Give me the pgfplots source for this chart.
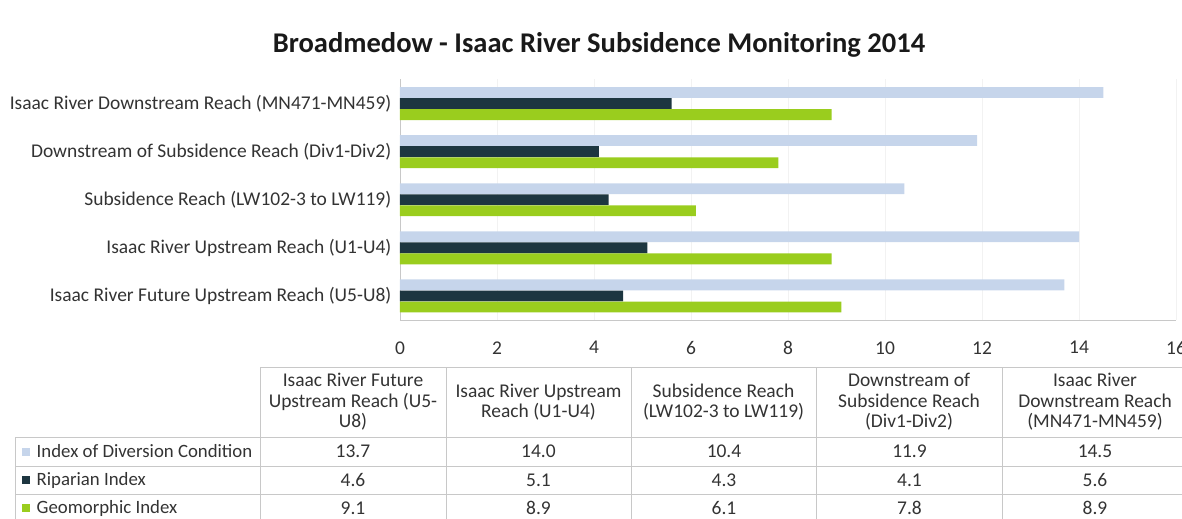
\documentclass[border=0pt]{standalone}
\usepackage{fontspec}
\setmainfont{Carlito}
\usepackage{pgfplots}
\pgfplotsset{compat=1.18}
\definecolor{cDiv}{HTML}{C6D5EB}
\definecolor{cRip}{HTML}{1D3640}
\definecolor{cGeo}{HTML}{9ACD1E}
\definecolor{cLine}{HTML}{C8C8C8}
\definecolor{cText}{HTML}{333333}
\newcommand\lf{\fontsize{14.6}{15.4}\selectfont}
\newcommand\legf{\fontsize{14.1}{15.4}\selectfont}
\begin{document}
\begin{tikzpicture}
\useasboundingbox (0,0) rectangle (886.5pt,-388.5pt);
\begin{axis}[
  at={(300pt,-240pt)}, anchor=south west,
  scale only axis, width=582pt, height=180.4pt,
  xmin=0, xmax=16, ymin=-0.5, ymax=4.5,
  xtick={0,2,...,16}, ytick={0,1,2,3,4},
  yticklabels={Isaac River Future Upstream Reach (U5-U8),
               Isaac River Upstream Reach (U1-U4),
               Subsidence Reach (LW102-3 to LW119),
               Downstream of Subsidence Reach (Div1-Div2),
               Isaac River Downstream Reach (MN471-MN459)},
  separate axis lines,
  axis x line*=bottom, axis y line*=left,
  axis line style={cLine,-},
  major tick length=0pt,
  xmajorgrids, major grid style={black!5},
  tick label style={font=\lf, text=cText},
  /pgf/number format/assume math mode=true,
  xticklabel style={yshift=-12.5pt},
  yticklabel style={xshift=-3pt},
]
\addplot[xbar, bar width=0.225, bar shift=0.23, fill=cDiv, draw=none]
  coordinates {(13.7,0) (14.0,1) (10.4,2) (11.9,3) (14.5,4)};
\addplot[xbar, bar width=0.225, bar shift=0, fill=cRip, draw=none]
  coordinates {(4.6,0) (5.1,1) (4.3,2) (4.1,3) (5.6,4)};
\addplot[xbar, bar width=0.225, bar shift=-0.23, fill=cGeo, draw=none]
  coordinates {(9.1,0) (8.9,1) (6.1,2) (7.8,3) (8.9,4)};
\end{axis}
\begin{scope}[x=0.75pt,y=-0.75pt]
\node[font=\fontsize{21.4}{24}\selectfont\bfseries, text=black!90] at (599,45) {Broadmedow - Isaac River Subsidence Monitoring 2014};
\draw[cLine, line width=0.75pt] (260,367)--(1188,367);
\foreach \yy in {437,466,494,522} \draw[cLine, line width=0.75pt] (15,\yy)--(1188,\yy);
\draw[cLine, line width=0.75pt] (15,437)--(15,522);
\foreach \xx in {260,446,631,816,1002} \draw[cLine, line width=0.75pt] (\xx,367)--(\xx,522);
\node[align=center, font=\lf, text=cText] at (353,402) {Isaac River Future\\Upstream Reach (U5-\\U8)};
\node[align=center, font=\lf, text=cText] at (538.5,402) {Isaac River Upstream\\Reach (U1-U4)};
\node[align=center, font=\lf, text=cText] at (723.5,402) {Subsidence Reach\\(LW102-3 to LW119)};
\node[align=center, font=\lf, text=cText] at (909,402) {Downstream of\\Subsidence Reach\\(Div1-Div2)};
\node[align=center, font=\lf, text=cText] at (1095,402) {Isaac River\\Downstream Reach\\(MN471-MN459)};
\fill[cDiv] (22,447.5) rectangle (30,455.5);
\fill[cRip] (22,476) rectangle (30,484);
\fill[cGeo] (22,504) rectangle (30,512);
\node[anchor=west, font=\legf, text=cText] at (32,451.5) {Index of Diversion Condition};
\node[anchor=west, font=\legf, text=cText] at (32,480) {Riparian Index};
\node[anchor=west, font=\legf, text=cText] at (32,508) {Geomorphic Index};
\foreach \v [count=\i from 0] in {13.7,14.0,10.4,11.9,14.5}
  \node[font=\lf, text=cText] at (353+\i*185.5,451.5) {\v};
\foreach \v [count=\i from 0] in {4.6,5.1,4.3,4.1,5.6}
  \node[font=\lf, text=cText] at (353+\i*185.5,480) {\v};
\foreach \v [count=\i from 0] in {9.1,8.9,6.1,7.8,8.9}
  \node[font=\lf, text=cText] at (353+\i*185.5,508) {\v};
\end{scope}
\end{tikzpicture}
\end{document}
